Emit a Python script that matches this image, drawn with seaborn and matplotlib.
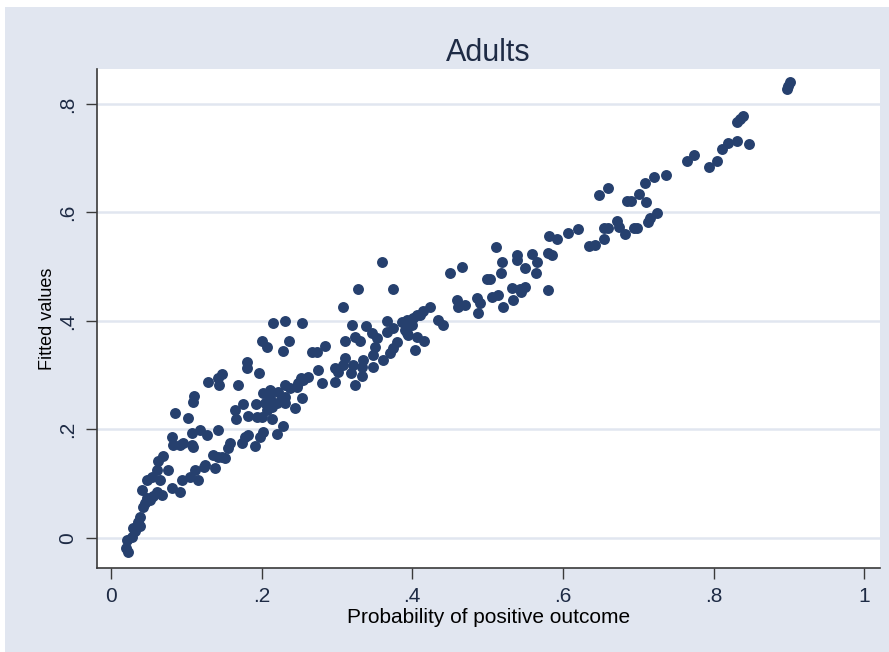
import matplotlib
matplotlib.use("Agg")
import matplotlib.pyplot as plt
import matplotlib.patches as mpatches
import pandas as pd
import seaborn as sns

# Probability of positive outcome (x) against fitted values (y), adults sample
prob_x = [
    0.020, 0.023, 0.021, 0.028, 0.029, 0.032, 0.035, 0.036, 0.039, 0.039,
    0.042, 0.045, 0.048, 0.052, 0.056, 0.061, 0.068, 0.041, 0.048, 0.054,
    0.065, 0.061, 0.076, 0.062, 0.069,
    0.081, 0.092, 0.094, 0.105, 0.116, 0.112, 0.124, 0.125, 0.138, 0.135,
    0.142, 0.147, 0.151, 0.155, 0.158, 0.174, 0.178, 0.182, 0.191, 0.198,
    0.202, 0.220, 0.228, 0.201, 0.214, 0.194, 0.182, 0.166, 0.165, 0.175,
    0.193, 0.205, 0.214, 0.207, 0.202, 0.211, 0.211, 0.220, 0.222, 0.227,
    0.231, 0.238, 0.247, 0.254, 0.244, 0.231, 0.231, 0.248, 0.252, 0.255,
    0.262, 0.275, 0.280, 0.297, 0.297, 0.301, 0.308, 0.311, 0.319, 0.321,
    0.324, 0.333, 0.333, 0.335, 0.348, 0.348, 0.361, 0.371, 0.375, 0.380,
    0.351, 0.353, 0.347, 0.331, 0.324, 0.311, 0.320, 0.339, 0.367, 0.375,
    0.367, 0.393, 0.400, 0.406, 0.393, 0.406, 0.404, 0.416, 0.386, 0.390,
    0.394, 0.401, 0.410, 0.414, 0.424, 0.434, 0.441,
    0.450, 0.466, 0.459, 0.461, 0.470, 0.486, 0.490, 0.487, 0.506, 0.514,
    0.521, 0.533, 0.534, 0.543, 0.550, 0.545, 0.499, 0.503, 0.511, 0.519,
    0.518, 0.539, 0.539, 0.550, 0.559, 0.566, 0.564, 0.580, 0.586, 0.580,
    0.582, 0.592, 0.607, 0.620, 0.635, 0.643, 0.655, 0.655, 0.660, 0.672,
    0.675, 0.683, 0.695, 0.699, 0.713, 0.716, 0.725, 0.648, 0.660, 0.685,
    0.691, 0.701, 0.710, 0.709, 0.721, 0.737, 0.765, 0.774, 0.794, 0.805,
    0.811, 0.819, 0.831, 0.847, 0.831, 0.835, 0.839, 0.898, 0.899, 0.902,
    0.081, 0.082, 0.092, 0.096, 0.108, 0.109, 0.108, 0.118, 0.127, 0.142,
    0.085, 0.102, 0.109, 0.110, 0.129, 0.142, 0.143, 0.147, 0.169, 0.181,
    0.181, 0.197, 0.201, 0.207, 0.215, 0.231, 0.254, 0.236, 0.228, 0.267,
    0.274, 0.284, 0.308, 0.328, 0.375, 0.360,
]
fitted_y = [
    -0.018, -0.026, -0.004, 0.002, 0.018, 0.013, 0.022, 0.029, 0.022, 0.039,
    0.057, 0.065, 0.074, 0.070, 0.077, 0.085, 0.079, 0.088, 0.107, 0.112,
    0.107, 0.125, 0.125, 0.142, 0.151,
    0.092, 0.085, 0.107, 0.112, 0.107, 0.125, 0.131, 0.135, 0.129, 0.153,
    0.149, 0.149, 0.147, 0.166, 0.175, 0.175, 0.186, 0.190, 0.170, 0.186,
    0.195, 0.192, 0.206, 0.223, 0.219, 0.223, 0.225, 0.219, 0.236, 0.247,
    0.247, 0.249, 0.241, 0.236, 0.267, 0.258, 0.273, 0.249, 0.269, 0.258,
    0.282, 0.276, 0.278, 0.258, 0.240, 0.249, 0.260, 0.286, 0.295, 0.291,
    0.297, 0.310, 0.286, 0.288, 0.313, 0.306, 0.319, 0.332, 0.304, 0.319,
    0.282, 0.299, 0.315, 0.328, 0.337, 0.315, 0.328, 0.341, 0.350, 0.361,
    0.352, 0.369, 0.378, 0.363, 0.371, 0.363, 0.393, 0.391, 0.400, 0.387,
    0.380, 0.402, 0.393, 0.411, 0.378, 0.371, 0.347, 0.363, 0.398, 0.383,
    0.374, 0.406, 0.411, 0.418, 0.426, 0.402, 0.393,
    0.488, 0.500, 0.439, 0.426, 0.429, 0.442, 0.433, 0.415, 0.444, 0.448,
    0.426, 0.461, 0.439, 0.459, 0.463, 0.453, 0.477, 0.477, 0.536, 0.509,
    0.488, 0.522, 0.512, 0.498, 0.523, 0.509, 0.488, 0.525, 0.522, 0.457,
    0.557, 0.551, 0.562, 0.570, 0.538, 0.540, 0.551, 0.571, 0.571, 0.584,
    0.573, 0.560, 0.571, 0.571, 0.582, 0.590, 0.599, 0.632, 0.645, 0.621,
    0.621, 0.634, 0.619, 0.654, 0.665, 0.669, 0.695, 0.706, 0.684, 0.695,
    0.717, 0.728, 0.732, 0.726, 0.767, 0.773, 0.778, 0.828, 0.833, 0.841,
    0.186, 0.171, 0.171, 0.175, 0.171, 0.168, 0.194, 0.199, 0.190, 0.199,
    0.230, 0.221, 0.251, 0.262, 0.288, 0.295, 0.282, 0.302, 0.282, 0.324,
    0.313, 0.304, 0.363, 0.352, 0.396, 0.400, 0.396, 0.363, 0.345, 0.343,
    0.343, 0.354, 0.426, 0.459, 0.459, 0.509,
]

x_ticks = [0, 0.2, 0.4, 0.6, 0.8, 1.0]
x_ticklabels = ["0", ".2", ".4", ".6", ".8", "1"]
y_ticks = [0, 0.2, 0.4, 0.6, 0.8]
y_ticklabels = ["0", ".2", ".4", ".6", ".8"]

df = pd.DataFrame({"prob": prob_x, "fitted": fitted_y})

sns.set_theme(style="white")
plt.rcParams["font.family"] = ["Liberation Sans", "DejaVu Sans"]

BG = "#E1E6F0"
NAVY = "#26406E"
TEXT = "#1E2B45"

fig = plt.figure(figsize=(8.89, 6.52), dpi=100)
fig.patch.set_facecolor("white")
# graph region: light blue-gray panel with a thin white margin on top and left
panel = mpatches.Rectangle((5 / 889, 0), 1, (652 - 7) / 652,
                           transform=fig.transFigure,
                           facecolor=BG, edgecolor="none", zorder=-10)
fig.patches.append(panel)

ax = fig.add_axes([97 / 889, 84 / 652, 783 / 889, 499 / 652])
ax.set_zorder(1)
ax.set_facecolor("white")

sns.scatterplot(data=df, x="prob", y="fitted", ax=ax, color=NAVY,
                s=62, linewidth=0, alpha=1, zorder=3)

ax.set_xlim(-0.0186, 1.021)
ax.set_ylim(-0.0553, 0.8645)

ax.set_xticks(x_ticks)
ax.set_xticklabels(x_ticklabels, fontsize=15, color=TEXT)
ax.set_yticks(y_ticks)
ax.set_yticklabels(y_ticklabels, fontsize=15, color=TEXT, rotation=90, va="center")

for yv in y_ticks:
    ax.axhline(yv, color=BG, linewidth=1.8, zorder=1)

ax.tick_params(axis="both", direction="out", length=8, width=1, color="#3A3A3A",
               bottom=True, left=True, pad=6)

for side in ("top", "right"):
    ax.spines[side].set_visible(False)
for side in ("left", "bottom"):
    ax.spines[side].set_color("#3A3A3A")
    ax.spines[side].set_linewidth(1.2)

ax.set_xlabel("Probability of positive outcome", fontsize=15, color="black", labelpad=1)
ax.set_ylabel("Fitted values", fontsize=13, color="black", labelpad=2)
ax.set_title("Adults", fontsize=22, color=TEXT, pad=6)

fig.savefig("out.png", dpi=100, facecolor=fig.get_facecolor())
